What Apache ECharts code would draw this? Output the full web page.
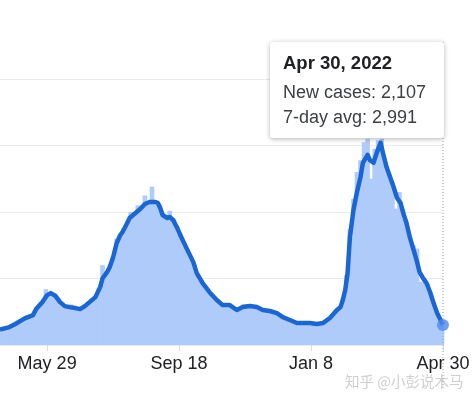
<!DOCTYPE html>
<html>
<head>
<meta charset="utf-8">
<script src="https://cdn.jsdelivr.net/npm/echarts@6/dist/echarts.min.js"></script>
<style>
  html, body { margin: 0; padding: 0; background: #fff; }
  #box { width: 474px; height: 403px; }
</style>
</head>
<body>
<div id="box"></div>
<script>
// first day on the axis is 2021-04-19, one category per day up to 2022-04-30
const startDate = new Date(2021, 3, 19);
const dayCount = 377;

// axis labels: day index -> text
const tickDays = [40, 152, 264, 376];
const tickLabels = ['May 29', 'Sep 18', 'Jan 8', 'Apr 30'];

// 7-day average (day index, value)
const avgDay = [0, 8, 13, 21, 28, 31, 36, 40, 43, 47, 51, 55, 59, 64, 68, 72, 76, 81, 85, 87, 91, 93, 96, 99, 102, 104, 108, 110, 115, 119, 123, 127, 132, 134, 136, 138, 142, 144, 147, 150, 153, 159, 164, 167, 172, 178, 184, 189, 195, 201, 206, 212, 218, 223, 229, 235, 240, 246, 252, 257, 263, 269, 274, 280, 286, 289, 291, 293, 295, 297, 300, 303, 306, 308, 312, 314, 317, 320, 323, 325, 328, 331, 334, 337, 340, 342, 345, 348, 351, 354, 356, 359, 362, 365, 368, 371, 376];
const avgValue = [2300, 2700, 3150, 4000, 4500, 5500, 6450, 7500, 7800, 7400, 6450, 5850, 5700, 5550, 5400, 5850, 6450, 7200, 8700, 10000, 11000, 11650, 13200, 15300, 16500, 17000, 18350, 19100, 19850, 20450, 21200, 21500, 21500, 21350, 20600, 19550, 19100, 19250, 18800, 17750, 16550, 14300, 12500, 10800, 9300, 7900, 6770, 6000, 6000, 5260, 5700, 5860, 5700, 5260, 5110, 4800, 4200, 3760, 3300, 3300, 3300, 3160, 3300, 4060, 5260, 5700, 6770, 8270, 10800, 16250, 20300, 23000, 25270, 27400, 28580, 27800, 27400, 29000, 30400, 28900, 26800, 25300, 23800, 22100, 21350, 20000, 18350, 16100, 14300, 12500, 11000, 10080, 9330, 7970, 6300, 4800, 2991];

// new cases, read every 3rd day (0, 3, 6 ... 375) plus the last day
const caseDay = [];
for (let d = 0; d < dayCount; d += 3) caseDay.push(d);
caseDay.push(376);
const caseValue = [
  2400, 2450, 2700, 2800, 3100, 3350, 3500, 3900, 4200, 4500,
  5200, 5900, 6500, 8400, 7900, 7700, 7100, 6400, 5900, 5800,
  6100, 5500, 5400, 5500, 5900, 6400, 7000, 7400, 8600, 12000,
  11000, 11900, 13400, 16000, 16700, 17500, 18600, 20000, 19800, 21000,
  20700, 22500, 21600, 23800, 21700, 21200, 19800, 19300, 20200, 19000,
  18000, 16700, 15600, 14500, 13300, 12100, 10700, 9800, 9000, 8200,
  7600, 7000, 6500, 6000, 6100, 6000, 5600, 5300, 5600, 6100,
  5900, 5900, 5800, 5600, 5400, 5200, 5100, 5000, 4900, 4600,
  4200, 4000, 3800, 3500, 3300, 3400, 3300, 3300, 3300, 3200,
  3300, 3300, 3600, 4100, 4500, 5300, 5700, 7200, 10500, 17500,
  22000, 26000, 27800, 30500, 31000, 25000, 29500, 30800, 31000, 27500,
  25800, 24500, 20500, 23000, 20500, 18400, 16200, 15000, 14500, 9500,
  10000, 9200, 7300, 6000, 4300, 3000, 2107
];

const MONTHS = ['Jan', 'Feb', 'Mar', 'Apr', 'May', 'Jun', 'Jul', 'Aug', 'Sep', 'Oct', 'Nov', 'Dec'];
const dates = [];
for (let i = 0; i < dayCount; i++) {
  dates.push(new Date(startDate.getFullYear(), startDate.getMonth(), startDate.getDate() + i));
}
const categories = dates.map(d => MONTHS[d.getMonth()] + ' ' + d.getDate());

const showTick = (idx) => tickDays.indexOf(idx) >= 0;
const font = 'Arial, "Liberation Sans", sans-serif';

const chart = echarts.init(document.getElementById('box'));
chart.setOption({
  animation: false,
  grid: { left: 0, right: 31, top: 79, bottom: 58 },
  xAxis: {
    type: 'category',
    data: categories,
    boundaryGap: false,
    axisLine: { show: false },
    axisTick: {
      show: true,
      interval: showTick,
      length: 6,
      lineStyle: { color: '#dadce0' }
    },
    axisLabel: {
      interval: showTick,
      margin: 10,
      color: '#202124',
      fontSize: 18,
      fontFamily: font,
      formatter: (val, idx) => tickLabels[tickDays.indexOf(idx)] || ''
    },
    splitLine: { show: false }
  },
  yAxis: {
    type: 'value',
    min: 0,
    max: 40000,
    interval: 10000,
    axisLabel: { show: false },
    axisLine: { show: false },
    axisTick: { show: false },
    splitLine: { lineStyle: { color: '#ebebeb', width: 1 } }
  },
  series: [
    {
      name: 'New cases',
      type: 'bar',
      barWidth: 4.6,
      itemStyle: { color: '#aecbfa' },
      data: caseDay.map((d, i) => [d, caseValue[i]])
    },
    {
      name: '7-day avg',
      type: 'line',
      symbol: 'none',
      lineStyle: { color: '#1a66d2', width: 4.5, join: 'round' },
      data: avgDay.map((d, i) => [d, avgValue[i]]),
      z: 3
    },
    {
      type: 'scatter',
      symbolSize: 12,
      itemStyle: { color: '#4a8af4' },
      data: [[avgDay[avgDay.length - 1], avgValue[avgValue.length - 1]]],
      z: 4
    }
  ]
});

// hover card for the last day
const lastIdx = dayCount - 1;
const px = chart.convertToPixel({ xAxisIndex: 0 }, lastIdx);
const last = dates[lastIdx];
const title = MONTHS[last.getMonth()] + ' ' + last.getDate() + ', ' + last.getFullYear();
const fmt = (v) => v.toLocaleString('en-US');
const boxW = 174, boxH = 96, boxTop = 42;
const boxLeft = px + 1 - boxW;

chart.setOption({
  graphic: [
    {
      type: 'line',
      z: 100,
      shape: { x1: px, y1: boxTop, x2: px, y2: 388 },
      style: { stroke: '#9aa0a6', lineWidth: 1, lineDash: [1, 2] }
    },
    {
      type: 'rect',
      z: 101,
      shape: { x: boxLeft, y: boxTop, width: boxW, height: boxH, r: 3 },
      style: {
        fill: '#fff',
        shadowBlur: 5,
        shadowOffsetY: 1,
        shadowColor: 'rgba(0,0,0,0.3)'
      }
    },
    {
      type: 'text',
      z: 102,
      x: boxLeft + 13,
      y: 64,
      style: {
        text: title,
        fill: '#202124',
        font: 'bold 18.5px ' + font,
        verticalAlign: 'middle'
      }
    },
    {
      type: 'text',
      z: 102,
      x: boxLeft + 13,
      y: 93,
      style: {
        text: 'New cases: ' + fmt(caseValue[caseValue.length - 1]),
        fill: '#3c4043',
        font: '18px ' + font,
        verticalAlign: 'middle'
      }
    },
    {
      type: 'text',
      z: 102,
      x: boxLeft + 13,
      y: 118,
      style: {
        text: '7-day avg: ' + fmt(avgValue[avgValue.length - 1]),
        fill: '#3c4043',
        font: '18px ' + font,
        verticalAlign: 'middle'
      }
    },
    {
      type: 'text',
      z: 103,
      x: 345,
      y: 381,
      style: {
        text: '知乎 @小彭说木马',
        fill: 'rgba(160,160,160,0.5)',
        font: '14.5px "Noto Sans CJK SC", sans-serif',
        verticalAlign: 'middle'
      }
    }
  ]
});
</script>
</body>
</html>
